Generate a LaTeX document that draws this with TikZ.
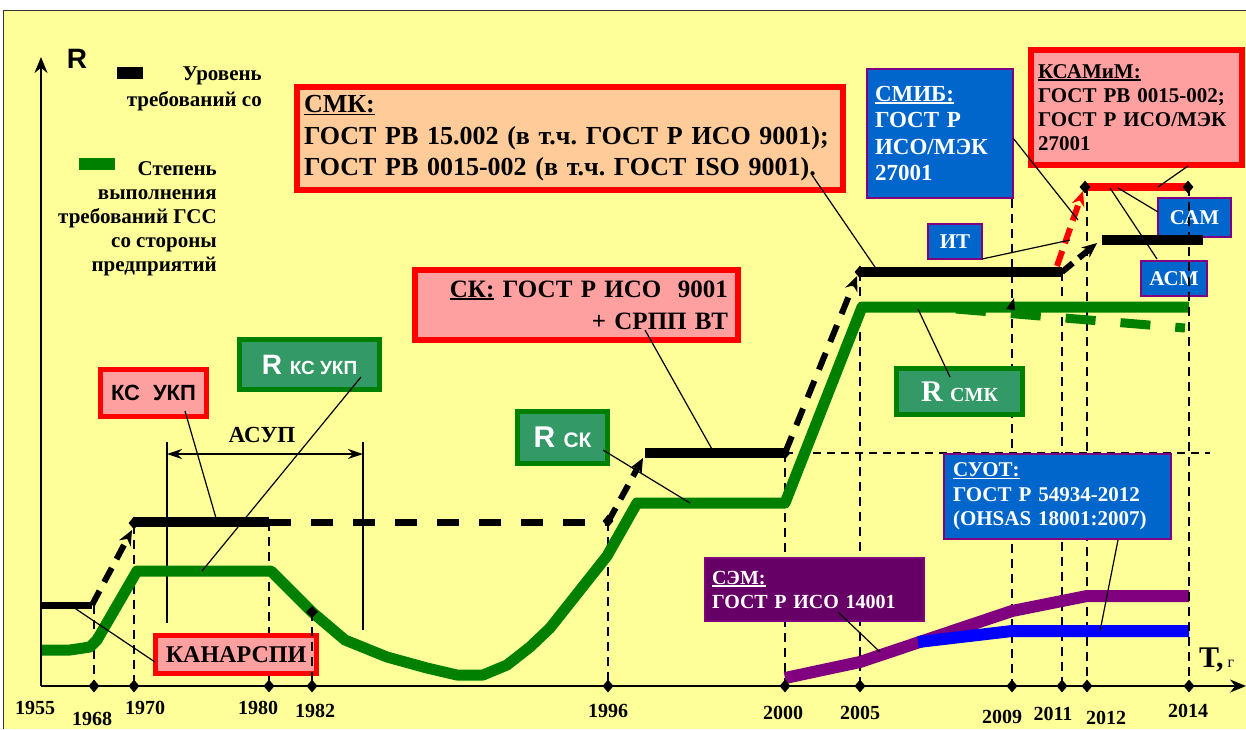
\documentclass[tikz,border=0pt]{standalone}
\usepackage{fontspec}
\setmainfont{Liberation Serif}
\newfontfamily\arialf{Liberation Sans}
\usetikzlibrary{arrows.meta,shapes.geometric}
\definecolor{bgy}{RGB}{255,255,153}
\definecolor{peach}{RGB}{255,204,153}
\definecolor{pinkc}{RGB}{255,160,160}
\definecolor{grn}{RGB}{0,128,0}
\definecolor{gbox}{RGB}{51,153,102}
\definecolor{bbox}{RGB}{0,102,204}
\definecolor{purp}{RGB}{128,0,128}
\definecolor{dpurp}{RGB}{102,0,102}
\definecolor{bline}{RGB}{0,0,255}
\newcommand{\myfs}[2]{\fontsize{#1}{#2}\selectfont}
\newcommand{\myul}[1]{\setbox0\hbox{#1}\rlap{\rule[-2.6pt]{\wd0}{1.5pt}}\box0\relax}
\frenchspacing
\begin{document}
\begin{tikzpicture}[x=1pt,y=-1pt,
  lvl/.style={line width=10pt},
  grnl/.style={line width=11pt,grn,line join=round},
  vd/.style={line width=1.8pt,dash pattern=on 9pt off 6pt},
  ptr/.style={line width=1.2pt},
  dmd/.style={diamond,fill=black,inner sep=0pt,minimum width=11pt,minimum height=13pt},
  bx/.style={inner sep=0pt,font=\bfseries},
  redbx/.style={bx,draw=red,line width=6pt,fill=pinkc},
  grnbx/.style={bx,draw=grn,line width=5pt,fill=gbox,text=white},
  blubx/.style={bx,draw=purp,line width=2pt,fill=bbox,text=white},
  tip/.style={-{Stealth[length=15pt,width=13pt]}},
  yr/.style={font=\bfseries\myfs{20}{20},anchor=base,inner sep=0pt}
]
\useasboundingbox (0,0) rectangle (1246,729);
% background
\fill[white] (0,0) rectangle (1246,729);
\fill[bgy] (3,10) rectangle (1246,729);
\draw[line width=1pt,black!80] (3,729) -- (3,10) -- (1246,10);

% vertical dashed guides
\draw[vd] (94,605) -- (94,686);
\draw[vd] (134,525) -- (134,686);
\draw[vd] (269,522) -- (269,686);
\draw[vd] (608,522) -- (608,686);
\draw[vd] (785,453) -- (785,686);
\draw[vd] (860,272) -- (860,686);
\draw[vd] (1012,199) -- (1012,686);
\draw[vd] (1062,272) -- (1062,686);
\draw[vd] (1087,187) -- (1087,686);
\draw[line width=1.4pt,dash pattern=on 8pt off 6pt] (785,453) -- (1210,453);

% ASUP dimension
\draw[line width=1.2pt] (167,442) -- (167,623);
\draw[line width=1.2pt] (363,442) -- (363,630);
\draw[line width=1.2pt,{Stealth[length=15pt,width=10pt]}-{Stealth[length=15pt,width=10pt]}] (167,454) -- (363,454);
\node[font=\bfseries\myfs{23}{23},anchor=base,inner sep=0pt] (asup) at (262,442) {АСУП};

% green curve
\draw[grnl] (41,650) -- (70,650) -- (90,647) -- (97,640) -- (137,571) -- (271,571) -- (312,612) -- (345,640) -- (387,657) -- (427,668) -- (457,675) -- (483,675) -- (507,665) -- (530,647) -- (550,628) -- (607,556) -- (637,503) -- (785,503) -- (862,307) -- (1189,307);
\draw[line width=9pt,grn,dash pattern=on 30pt off 25pt] (956,309) -- (1185,328);
\fill (1006,309) -- (1014,298) -- (1015,310) -- cycle;

% black levels
\draw[line width=7pt] (41,605) -- (92,605);
\draw[line width=6pt,dash pattern=on 16pt off 10pt,tip] (92,605) -- (132,530);
\draw[lvl] (134,522) -- (269,522);
\draw[line width=7pt,dash pattern=on 22pt off 20pt] (269,522) -- (608,522);
\draw[line width=6pt,dash pattern=on 16pt off 10pt,tip] (608,522) -- (643,458);
\draw[lvl] (645,453) -- (785,453);
\draw[line width=6pt,dash pattern=on 18pt off 12pt,tip] (785,453) -- (857,276);
\draw[lvl] (860,272) -- (1062,272);
\draw[line width=6pt,dash pattern=on 14pt off 8pt,tip] (1062,272) -- (1097,243);
\draw[red,line width=6pt,dash pattern=on 16pt off 8pt,tip] (1057,266) -- (1083,191);
\draw[red,line width=8pt] (1085,187) -- (1188,187);

% purple and blue
\draw[purp,line width=12pt] (785,678) -- (860,662) -- (1012,611) -- (1087,596) -- (1189,596);
\draw[bline,line width=12pt] (918,642) -- (1012,631) -- (1189,631);

% legend
\node[fill=black,minimum width=26pt,minimum height=12pt,inner sep=0pt] (legk) at (130,73) {};
\node[font=\bfseries\myfs{21}{26},align=right,anchor=north east,inner sep=0pt] (legkt) at (262,67) {Уровень\\требований со};
\node[fill=grn,minimum width=36pt,minimum height=12pt,inner sep=0pt] (legg) at (97,164) {};
\node[font=\bfseries\myfs{21}{24},align=right,anchor=north east,inner sep=0pt] (leggt) at (217,161) {Степень\\выполнения\\требований ГСС\\со стороны\\предприятий};

% boxes
\node[bx,draw=red,line width=6pt,fill=peach,text width=532pt,inner xsep=7pt,minimum height=103pt,align=left,font=\bfseries\myfs{26}{31.5}] (smk) at (570,138.5) {\myul{СМК:}\\ГОСТ РВ 15.002 (в т.ч. ГОСТ Р ИСО 9001);\\ГОСТ РВ 0015-002 (в т.ч. ГОСТ ISO 9001).};
\node[redbx,text width=303pt,inner xsep=10pt,minimum height=70pt,align=right,font=\bfseries\myfs{25}{32}] (sk) at (576.5,305) {\myul{СК:} ГОСТ Р ИСО~~9001\\+ СРПП ВТ};
\node[redbx,line width=5pt,minimum width=106pt,minimum height=47pt,font=\arialf\bfseries\myfs{22}{22}] (ksukp) at (153.5,393) {КС\hspace{13pt}УКП};
\node[grnbx,minimum width=140pt,minimum height=50pt,font=\arialf\bfseries] (rksukp) at (309.5,364.5) {\myfs{28}{28}R \myfs{19}{19}КС УКП};
\node[grnbx,minimum width=90pt,minimum height=52pt,font=\arialf\bfseries] (rsk) at (562.5,437.5) {\myfs{30}{30}R \myfs{21}{21}СК};
\node[grnbx,minimum width=126pt,minimum height=46pt,font=\bfseries] (rsmk) at (959.5,391.5) {\myfs{30}{30}R \myfs{20}{20}СМК};
\node[redbx,line width=5pt,minimum width=161pt,minimum height=38pt,font=\bfseries\myfs{24}{24}] (kanar) at (236,654.5) {КАНАРСПИ};
\node[blubx,text width=130pt,inner xsep=8pt,minimum height=129pt,align=left,font=\bfseries\myfs{23}{26.5}] (smib) at (940,133.5) {\myul{СМИБ:}\\ГОСТ Р\\ИСО/МЭК\\27001};
\node[redbx,text width=197pt,inner xsep=7pt,minimum height=115pt,align=left,font=\bfseries\myfs{21}{24}] (ksam) at (1136.5,107.5) {\myul{КСАМиМ:}\\ГОСТ РВ 0015-002;\\ГОСТ Р ИСО/МЭК\\27001};
\node[blubx,minimum width=54pt,minimum height=35pt,font=\bfseries\myfs{21}{21}] (it) at (955,241.5) {ИТ};
\node[blubx,minimum width=73pt,minimum height=39pt,font=\bfseries\myfs{21}{21}] (sam) at (1194.5,217.5) {САМ};
\node[blubx,minimum width=66pt,minimum height=35pt,font=\bfseries\myfs{21}{21}] (asm) at (1174,278.5) {АСМ};
\node[bx,draw=purp,line width=2pt,fill=dpurp,text=white,text width=205pt,inner xsep=7pt,minimum height=63pt,align=left,font=\bfseries\myfs{20}{24}] (sem) at (814.5,589.5) {\myul{СЭМ:}\\ГОСТ Р ИСО 14001};
\node[blubx,text width=209pt,inner xsep=9pt,minimum height=85pt,align=left,font=\bfseries\myfs{21}{24.5}] (suot) at (1057.5,496.5) {\myul{СУОТ:}\\ГОСТ Р 54934-2012\\(OHSAS 18001:2007)};

% lines drawn over boxes
\draw[vd] (312,612) -- (312,686);
\draw[vd] (1189,187) -- (1189,686);
\draw[lvl] (1102,240) -- (1203,240);

% pointers
\coordinate (a1) at (155,662); \coordinate (b1) at (73,607);
\coordinate (a2) at (185,411); \coordinate (b2) at (216,518);
\coordinate (a3) at (361,377); \coordinate (b3) at (202,571);
\coordinate (a4) at (603,450); \coordinate (b4) at (690,503);
\coordinate (a5) at (645,330); \coordinate (b5) at (713,451);
\coordinate (a6) at (812,175); \coordinate (b6) at (877,270);
\coordinate (a7) at (950,377); \coordinate (b7) at (918,309);
\coordinate (a8) at (1013,138); \coordinate (b8) at (1078,220);
\coordinate (a9) at (982,259); \coordinate (b9) at (1070,240);
\coordinate (a10) at (1188,166); \coordinate (b10) at (1158,187);
\coordinate (a11) at (1158,212); \coordinate (b11) at (1118,188);
\coordinate (a12) at (1157,259); \coordinate (b12) at (1110,188);
\coordinate (a13) at (838,612); \coordinate (b13) at (880,652);
\coordinate (a14) at (1118,540); \coordinate (b14) at (1100,631);
\foreach \i in {1,...,14} \draw[ptr] (a\i) -- (b\i);

% markers
\node[dmd] (m1) at (134,523) {};
\node[dmd] (m2) at (608,521) {};
\node[dmd] (m3) at (785,453) {};
\node[dmd] (m4) at (860,272) {};
\node[dmd] (m5) at (1085,187) {};
\node[dmd] (m6) at (1188,187) {};
\node[dmd,minimum width=12pt,minimum height=12pt] (m7) at (312,612) {};

% axes
\coordinate (O) at (41,686);
\coordinate (xend) at (1246,686);
\coordinate (yend) at (41,57);
\draw[line width=2.2pt,-{Stealth[length=16pt,width=13pt]}] (O) -- (xend);
\draw[line width=2.2pt,-{Stealth[length=16pt,width=13pt]}] (O) -- (yend);
\foreach \x in {94,134,269,312,608,785,860,1012,1062,1087,1189} \node[dmd] (t\x) at (\x,686) {};
\node[font=\arialf\bfseries\myfs{28}{28},anchor=base,inner sep=0pt] (rlab) at (77,68) {R};
\node[anchor=base west,inner sep=0pt] (tlab) at (1199,667) {{\bfseries\myfs{30}{30}Т,}\hspace{4pt}{\myfs{16}{16}г}};

% years
\node[yr] (y1) at (35,714) {1955};
\node[yr] (y2) at (92,725) {1968};
\node[yr] (y3) at (145,714) {1970};
\node[yr] (y4) at (258,714) {1980};
\node[yr] (y5) at (315,717) {1982};
\node[yr] (y6) at (608,717) {1996};
\node[yr] (y7) at (783,719) {2000};
\node[yr] (y8) at (860,719) {2005};
\node[yr] (y9) at (1002,723) {2009};
\node[yr] (y10) at (1053,720) {2011};
\node[yr] (y11) at (1106,724) {2012};
\node[yr] (y12) at (1188,717) {2014};
\end{tikzpicture}
\end{document}
